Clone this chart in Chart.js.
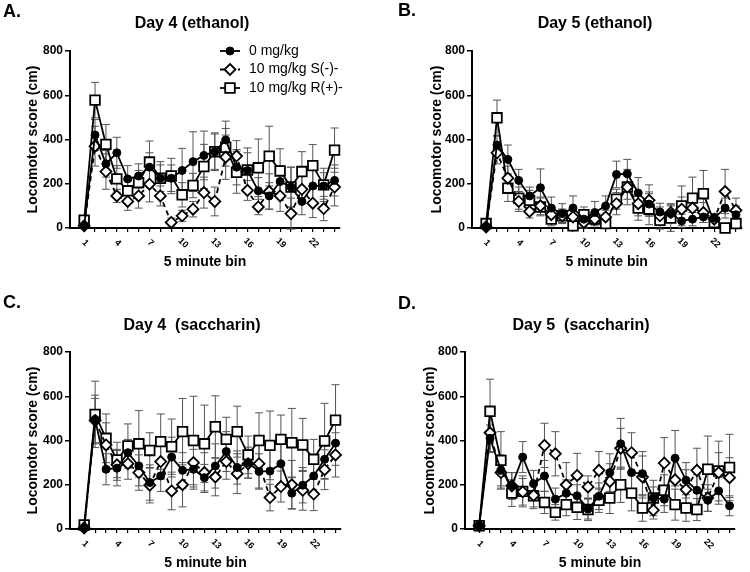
<!DOCTYPE html>
<html>
<head>
<meta charset="utf-8">
<script src="https://cdn.jsdelivr.net/npm/chart.js@4.4.1/dist/chart.umd.min.js"></script>
<style>
body { margin: 0; background: #fff; }
#wrap { position: relative; width: 750px; height: 572px; }
canvas { position: absolute; }
</style>
</head>
<body>
<div id="wrap">
  <canvas id="panelA" width="375" height="286" style="left:0;top:0"></canvas>
  <canvas id="panelB" width="375" height="286" style="left:375px;top:0"></canvas>
  <canvas id="panelC" width="375" height="286" style="left:0;top:286px"></canvas>
  <canvas id="panelD" width="375" height="286" style="left:375px;top:286px"></canvas>
</div>
<script>
const bins = [1, 2, 3, 4, 5, 6, 7, 8, 9, 10, 11, 12, 13, 14, 15, 16, 17, 18, 19, 20, 21, 22, 23, 24];
const binLabels = [1, 4, 7, 10, 13, 16, 19, 22];
const yTicks = [0, 200, 400, 600, 800];
const seriesNames = ['0 mg/kg', '10 mg/kg S(-)-', '10 mg/kg R(+)-'];

// A. Day 4 (ethanol)
const a0 = [10, 420, 290, 340, 222, 235, 275, 225, 225, 260, 300, 328, 345, 398, 275, 260, 168, 145, 210, 185, 120, 190, 190, 215];
const a1 = [10, 370, 255, 145, 120, 145, 198, 145, 25, 55, 85, 160, 120, 320, 325, 170, 95, 165, 145, 65, 175, 112, 88, 185];
const a2 = [35, 578, 378, 222, 168, 205, 298, 225, 235, 150, 192, 278, 345, 365, 252, 262, 272, 325, 258, 185, 255, 282, 195, 352];
const a0Err = [5, 70, 60, 70, 60, 55, 65, 60, 60, 100, 135, 110, 80, 85, 80, 80, 60, 60, 70, 90, 60, 70, 60, 70];
const a1Err = [5, 90, 80, 30, 40, 55, 80, 45, 20, 25, 35, 70, 65, 100, 70, 45, 35, 80, 70, 70, 60, 65, 55, 85];
const a2Err = [10, 80, 90, 60, 45, 55, 95, 75, 80, 55, 55, 100, 85, 85, 95, 100, 130, 135, 100, 90, 90, 95, 75, 100];

// B. Day 5 (ethanol)
const b0 = [5, 375, 310, 215, 145, 182, 90, 65, 90, 40, 70, 100, 242, 245, 158, 108, 72, 65, 32, 40, 50, 45, 90, 60];
const b1 = [5, 340, 225, 120, 75, 100, 60, 55, 50, 25, 40, 50, 110, 185, 110, 125, 55, 70, 85, 90, 70, 40, 165, 80];
const b2 = [20, 498, 180, 135, 125, 95, 40, 55, 10, 60, 40, 20, 130, 185, 90, 85, 35, 45, 100, 135, 155, 25, 0, 20];
const b0Err = [3, 40, 65, 50, 40, 85, 50, 45, 55, 40, 50, 45, 60, 65, 70, 55, 40, 35, 30, 30, 25, 20, 45, 40];
const b1Err = [3, 50, 55, 45, 30, 40, 35, 30, 35, 20, 25, 30, 50, 80, 55, 70, 40, 40, 55, 50, 45, 25, 100, 55];
const b2Err = [5, 80, 60, 50, 45, 40, 30, 30, 10, 35, 30, 20, 45, 55, 55, 70, 40, 60, 90, 95, 105, 20, 5, 15];

// C. Day 4 (saccharin)
const c0 = [5, 495, 270, 275, 345, 285, 210, 240, 325, 265, 270, 232, 285, 350, 278, 300, 260, 262, 295, 162, 198, 240, 315, 388];
const c1 = [5, 490, 380, 290, 295, 255, 198, 305, 172, 200, 300, 255, 235, 305, 250, 295, 295, 142, 192, 200, 175, 158, 268, 335];
const c2 = [18, 518, 410, 312, 375, 385, 355, 395, 372, 440, 400, 385, 462, 405, 440, 335, 400, 378, 405, 390, 380, 315, 398, 492];
const c0Err = [5, 110, 70, 80, 60, 90, 80, 70, 90, 80, 90, 60, 100, 90, 75, 70, 80, 100, 90, 70, 80, 80, 90, 100];
const c1Err = [5, 100, 100, 70, 70, 80, 80, 80, 85, 100, 110, 90, 85, 80, 90, 65, 110, 60, 70, 110, 90, 75, 90, 100];
const c2Err = [10, 150, 110, 80, 100, 150, 80, 125, 125, 150, 200, 175, 140, 100, 115, 85, 125, 155, 110, 155, 120, 90, 170, 160];

// D. Day 5 (saccharin)
const d0 = [15, 410, 265, 195, 325, 205, 240, 135, 162, 150, 90, 148, 255, 385, 255, 250, 140, 135, 320, 220, 175, 130, 172, 105];
const d1 = [15, 435, 255, 195, 168, 152, 378, 340, 200, 242, 190, 265, 215, 365, 345, 235, 85, 298, 222, 178, 265, 140, 255, 232];
const d2 = [15, 532, 310, 162, 170, 150, 120, 75, 110, 98, 88, 130, 140, 200, 162, 95, 140, 175, 110, 95, 88, 270, 262, 278];
const d0Err = [5, 60, 70, 60, 70, 60, 70, 50, 60, 50, 45, 60, 85, 115, 80, 100, 50, 60, 125, 80, 70, 50, 60, 45];
const d1Err = [5, 90, 70, 60, 60, 60, 100, 100, 100, 100, 50, 85, 80, 90, 90, 95, 40, 115, 100, 90, 100, 60, 90, 90];
const d2Err = [5, 145, 130, 60, 70, 50, 50, 35, 50, 55, 50, 55, 70, 80, 80, 60, 80, 70, 70, 60, 50, 150, 135, 150];

const FONT = 'Arial, "Liberation Sans", sans-serif';
Chart.defaults.font.family = FONT;
Chart.defaults.color = '#000';

const seriesStyle = [
    { pointStyle: 'circle', pointRadius: 4, pointBackgroundColor: '#000', pointBorderWidth: 1, borderDash: [] },
    { pointStyle: 'rectRot', pointRadius: 5.5, pointBackgroundColor: '#fff', pointBorderWidth: 1.8, borderDash: [5, 4] },
    { pointStyle: 'rect', pointRadius: 6.8, pointBackgroundColor: '#fff', pointBorderWidth: 1.8, borderDash: [] }
];

function drawMarker(ctx, style, x, y) {
    const r = style.pointRadius;
    ctx.save();
    ctx.setLineDash([]);
    ctx.fillStyle = style.pointBackgroundColor;
    ctx.strokeStyle = '#000';
    ctx.lineWidth = style.pointBorderWidth;
    ctx.beginPath();
    if (style.pointStyle === 'circle') {
        ctx.arc(x, y, r, 0, Math.PI * 2);
    } else if (style.pointStyle === 'rectRot') {
        ctx.moveTo(x, y - r); ctx.lineTo(x + r, y); ctx.lineTo(x, y + r); ctx.lineTo(x - r, y); ctx.closePath();
    } else {
        const s = r * Math.SQRT1_2;
        ctx.rect(x - s, y - s, 2 * s, 2 * s);
    }
    ctx.fill();
    ctx.stroke();
    ctx.restore();
}

function makePanel(p) {
    const decor = {
        id: 'decor',
        beforeDatasetsDraw(chart) {
            const ctx = chart.ctx;
            const xs = chart.scales.x, ys = chart.scales.y;
            ctx.save();
            ctx.strokeStyle = '#555';
            ctx.lineWidth = 1;
            p.series.forEach((vals, k) => {
                const err = p.errors[k];
                bins.forEach((b, i) => {
                    const x = xs.getPixelForValue(b);
                    const yT = ys.getPixelForValue(vals[i] + err[i]);
                    const yB = ys.getPixelForValue(vals[i] - err[i]);
                    ctx.beginPath();
                    ctx.moveTo(x, yT); ctx.lineTo(x, yB);
                    ctx.moveTo(x - 4, yT); ctx.lineTo(x + 4, yT);
                    ctx.moveTo(x - 4, yB); ctx.lineTo(x + 4, yB);
                    ctx.stroke();
                });
            });
            ctx.restore();
        },
        afterDraw(chart) {
            const ctx = chart.ctx;
            const xs = chart.scales.x;
            const area = chart.chartArea;
            ctx.save();
            ctx.fillStyle = '#000';
            // panel letter
            ctx.font = 'bold 18px ' + FONT;
            ctx.textAlign = 'left';
            ctx.textBaseline = 'middle';
            ctx.fillText(p.letter, p.letterX, p.letterY);
            // title
            ctx.font = 'bold 16px ' + FONT;
            ctx.textAlign = 'center';
            ctx.fillText(p.title, p.titleX, p.titleY);
            // rotated bin labels
            ctx.font = 'bold 9px ' + FONT;
            binLabels.forEach(v => {
                ctx.save();
                ctx.translate(xs.getPixelForValue(v) + 1, area.bottom + 15);
                ctx.rotate(Math.PI / 4);
                ctx.fillText(String(v), 0, 0);
                ctx.restore();
            });
            // legend
            if (p.legend) {
                ctx.font = '14px ' + FONT;
                ctx.textAlign = 'left';
                seriesNames.forEach((name, k) => {
                    const y = p.legend.y + k * 18.5;
                    ctx.save();
                    ctx.strokeStyle = '#000';
                    ctx.lineWidth = 1.8;
                    ctx.setLineDash(seriesStyle[k].borderDash);
                    ctx.beginPath();
                    ctx.moveTo(p.legend.x, y); ctx.lineTo(p.legend.x + 20, y);
                    ctx.stroke();
                    ctx.restore();
                    drawMarker(ctx, seriesStyle[k], p.legend.x + 10, y);
                    ctx.fillText(name, p.legend.x + 29, y);
                });
            }
            ctx.restore();
        }
    };

    const datasets = p.series.map((vals, k) => Object.assign({
        label: seriesNames[k],
        data: bins.map((b, i) => ({ x: b, y: vals[i] })),
        borderColor: '#000',
        borderWidth: 1.8,
        pointBorderColor: '#000',
        tension: 0,
        clip: false
    }, seriesStyle[k]));

    return new Chart(document.getElementById(p.id), {
        type: 'line',
        data: { datasets: datasets },
        options: {
            responsive: false,
            animation: false,
            layout: { padding: { left: 0, right: 375 - p.right, top: p.top, bottom: 0 } },
            plugins: { legend: { display: false }, tooltip: { enabled: false } },
            scales: {
                x: {
                    type: 'linear',
                    min: -0.3,
                    max: 24.5,
                    afterBuildTicks: s => { s.ticks = bins.map(v => ({ value: v })); },
                    afterFit: s => { s.height = 286 - p.bottom; },
                    ticks: { display: false },
                    grid: { drawOnChartArea: false, drawTicks: true, tickLength: 4, color: '#000', lineWidth: 1.2 },
                    border: { display: true, color: '#000', width: 2 },
                    title: { display: true, text: '5 minute bin', font: { size: 14, weight: 'bold' }, padding: { top: 0, bottom: p.xTitlePad } }
                },
                y: {
                    min: 0,
                    max: 800,
                    afterBuildTicks: s => { s.ticks = yTicks.map(v => ({ value: v })); },
                    afterFit: s => { s.width = p.left; },
                    ticks: { font: { size: 12, weight: 'bold' }, padding: 2 },
                    grid: { drawOnChartArea: false, drawTicks: true, tickLength: 5, color: '#000', lineWidth: 1.5 },
                    border: { display: true, color: '#000', width: 2 },
                    title: { display: true, text: 'Locomotor score (cm)', font: { size: 14, weight: 'bold' }, padding: { top: p.yTitlePad, bottom: 0 } }
                }
            }
        },
        plugins: [decor]
    });
}

makePanel({ id: 'panelA', letter: 'A.', letterX: 3, letterY: 12, title: 'Day 4 (ethanol)', titleX: 192, titleY: 24,
    series: [a0, a1, a2], errors: [a0Err, a1Err, a2Err],
    left: 70, right: 340, top: 51, bottom: 228, yTitlePad: 24.6, xTitlePad: 15.6, legend: { x: 220, y: 51 } });
makePanel({ id: 'panelB', letter: 'B.', letterX: 23, letterY: 11, title: 'Day 5 (ethanol)', titleX: 220, titleY: 24,
    series: [b0, b1, b2], errors: [b0Err, b1Err, b2Err],
    left: 97, right: 372, top: 51, bottom: 228, yTitlePad: 53.6, xTitlePad: 15.6 });
makePanel({ id: 'panelC', letter: 'C.', letterX: 3, letterY: 17, title: 'Day 4  (saccharin)', titleX: 192, titleY: 40,
    series: [c0, c1, c2], errors: [c0Err, c1Err, c2Err],
    left: 70, right: 341, top: 66, bottom: 243, yTitlePad: 24.6, xTitlePad: 0.6 });
makePanel({ id: 'panelD', letter: 'D.', letterX: 23, letterY: 18, title: 'Day 5  (saccharin)', titleX: 206, titleY: 40,
    series: [d0, d1, d2], errors: [d0Err, d1Err, d2Err],
    left: 90, right: 360, top: 66, bottom: 243, yTitlePad: 46.6, xTitlePad: 0.6 });
</script>
</body>
</html>
